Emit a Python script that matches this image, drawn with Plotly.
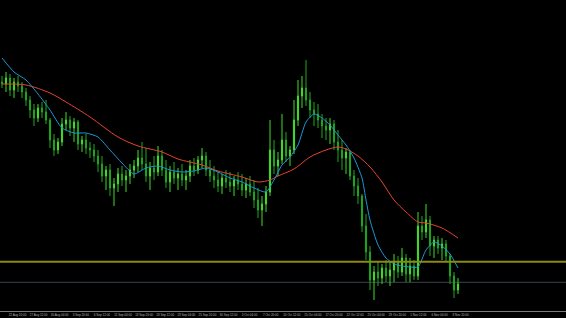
import plotly.graph_objects as go

# ---- data (price units) ----
open_ = [318, 316, 322, 310, 318, 314, 308, 300, 290, 282,
         292, 288, 280, 260, 250, 258, 276, 280, 272, 278,
         256, 260, 252, 250, 244, 236, 224, 230, 212, 216,
         226, 220, 224, 230, 234, 242, 236, 224, 232, 228,
         244, 230, 218, 228, 222, 226, 220, 224, 234, 230,
         240, 244, 230, 224, 220, 214, 222, 218, 214, 220,
         216, 210, 216, 208, 200, 190, 196, 208, 250, 234,
         240, 260, 244, 250, 280, 304, 312, 300, 290, 286,
         280, 274, 270, 276, 258, 250, 242, 248, 224, 214,
         204, 174, 148, 120, 128, 122, 132, 124, 130, 138,
         128, 142, 126, 134, 124, 174, 168, 180, 154, 160,
         152, 156, 144, 124, 110]
high = [324, 328, 326, 322, 324, 318, 312, 304, 296, 296,
        298, 300, 282, 266, 262, 282, 288, 284, 282, 280,
        264, 266, 258, 256, 250, 244, 234, 236, 222, 232,
        234, 230, 236, 240, 250, 258, 252, 238, 244, 254,
        250, 240, 234, 238, 232, 236, 230, 240, 242, 244,
        252, 248, 240, 234, 228, 226, 230, 228, 224, 228,
        226, 222, 224, 220, 212, 204, 214, 280, 260, 248,
        286, 268, 254, 300, 320, 324, 340, 308, 298, 296,
        286, 282, 282, 280, 270, 260, 252, 250, 230, 222,
        206, 186, 154, 134, 138, 136, 140, 138, 146, 144,
        152, 146, 142, 140, 188, 184, 196, 184, 164, 164,
        162, 160, 146, 128, 122]
low = [312, 308, 304, 302, 308, 302, 294, 282, 274, 278,
       282, 276, 252, 244, 246, 254, 270, 264, 258, 250,
       248, 246, 242, 238, 228, 218, 210, 204, 194, 208,
       214, 208, 216, 222, 228, 230, 218, 210, 220, 224,
       224, 212, 208, 216, 210, 214, 210, 218, 224, 226,
       232, 224, 218, 212, 208, 206, 212, 208, 204, 210,
       204, 202, 204, 192, 182, 174, 188, 204, 226, 224,
       236, 238, 234, 246, 274, 292, 294, 282, 274, 272,
       262, 260, 256, 250, 238, 230, 226, 220, 204, 196,
       168, 140, 110, 100, 114, 116, 118, 114, 118, 122,
       124, 118, 118, 120, 120, 160, 162, 144, 142, 146,
       140, 138, 116, 102, 106]
close = [316, 322, 310, 318, 314, 308, 300, 290, 282, 292,
         288, 280, 260, 250, 258, 276, 280, 272, 278, 256,
         260, 252, 250, 244, 236, 224, 230, 212, 216, 226,
         220, 224, 230, 234, 242, 236, 224, 232, 228, 244,
         230, 218, 228, 222, 226, 220, 224, 234, 230, 240,
         244, 230, 224, 220, 214, 222, 218, 214, 220, 216,
         210, 216, 208, 200, 190, 196, 208, 250, 234, 240,
         260, 244, 250, 280, 304, 312, 300, 290, 286, 280,
         274, 270, 276, 258, 250, 242, 248, 224, 214, 204,
         174, 148, 120, 128, 122, 132, 124, 130, 138, 128,
         142, 126, 134, 124, 174, 168, 180, 154, 160, 152,
         156, 144, 124, 110, 116]

# fast moving average (blue), sampled at bar indices
blue_idx = [0, 3, 6, 9, 12, 15, 18, 21, 24, 27,
            30, 33, 36, 39, 42, 45, 48, 51, 54, 57,
            60, 63, 66, 68, 70, 72, 74, 76, 78, 80,
            82, 84, 86, 88, 90, 91, 92, 94, 96, 98,
            100, 102, 104, 106, 108, 110, 112, 114]
blue_val = [342, 328, 320, 306, 290, 272, 267, 267, 263, 250,
            237, 226, 232, 234, 230, 228, 229, 232, 228, 222,
            218, 212, 208, 220, 235, 243, 255, 278, 286, 282,
            275, 265, 255, 242, 222, 200, 180, 155, 142, 136,
            134, 133, 133, 150, 158, 154, 146, 132]

# slow moving average (red)
red_idx = [0, 6, 12, 16, 22, 29, 34, 40, 44, 50,
           54, 60, 64, 67, 69, 73, 77, 81, 84, 86,
           89, 92, 95, 98, 101, 104, 106, 110, 114]
red_val = [316, 315, 307, 298, 283, 263, 254, 248, 241, 235,
           229, 223, 218, 220, 224, 231, 243, 250, 253, 251,
           244, 233, 218, 200, 188, 178, 177, 172, 162]

# horizontal levels
level_yellow = 138.3
level_gray = 117.7

# time-axis labels
tick_labels = ["04:00", "22 Aug 20:00", "27 Aug 12:00", "30 Aug 04:00", "3 Sep 20:00",
               "6 Sep 12:00", "11 Sep 04:00", "13 Sep 20:00", "18 Sep 12:00", "23 Sep 04:00",
               "25 Sep 20:00", "30 Sep 12:00", "3 Oct 04:00", "7 Oct 20:00", "10 Oct 12:00",
               "15 Oct 04:00", "17 Oct 20:00", "22 Oct 12:00", "25 Oct 04:00", "29 Oct 20:00",
               "1 Nov 12:00", "6 Nov 04:00", "8 Nov 20:00"]

# ---- figure ----
x = list(range(len(close)))
tick_vals = [0.3] + [3.875 + 5.275 * k for k in range(len(tick_labels) - 1)]

fig = go.Figure()
fig.add_trace(go.Candlestick(
    x=x, open=open_, high=high, low=low, close=close,
    increasing=dict(line=dict(color="#3fdc28", width=1), fillcolor="#6cff3a"),
    decreasing=dict(line=dict(color="#1fa81f", width=1), fillcolor="#0b7a0b"),
    whiskerwidth=0, hoverinfo="skip", showlegend=False,
))
fig.add_trace(go.Scatter(
    x=red_idx, y=red_val, mode="lines",
    line=dict(color="#e8432c", width=1, shape="spline", smoothing=0.8),
    hoverinfo="skip", showlegend=False,
))
fig.add_trace(go.Scatter(
    x=blue_idx, y=blue_val, mode="lines",
    line=dict(color="#1c98d8", width=1, shape="spline", smoothing=0.6),
    hoverinfo="skip", showlegend=False,
))

fig.add_shape(type="line", xref="paper", x0=0, x1=1, yref="y",
              y0=level_gray, y1=level_gray,
              line=dict(color="#3a444e", width=1), layer="below")
fig.add_shape(type="line", xref="paper", x0=0, x1=1, yref="y",
              y0=level_yellow, y1=level_yellow,
              line=dict(color="#8e8a0c", width=2), layer="above")

fig.update_layout(
    template="none",
    width=566, height=318,
    margin=dict(l=0, r=0, t=0, b=7, pad=0),
    paper_bgcolor="#000000", plot_bgcolor="#000000",
    showlegend=False,
    boxgap=0.6,
    xaxis=dict(
        range=[-0.5, 141], showgrid=False, zeroline=False,
        showline=True, linecolor="#7a7a7a", linewidth=1,
        tickmode="array", tickvals=tick_vals, ticktext=tick_labels,
        tickfont=dict(size=3, color="#b4b4b4", family="Arial"),
        ticks="", automargin=False,
        rangeslider=dict(visible=False),
    ),
    yaxis=dict(range=[89, 400], visible=False, showgrid=False,
               zeroline=False, automargin=False),
)

fig.write_html("out.html")
